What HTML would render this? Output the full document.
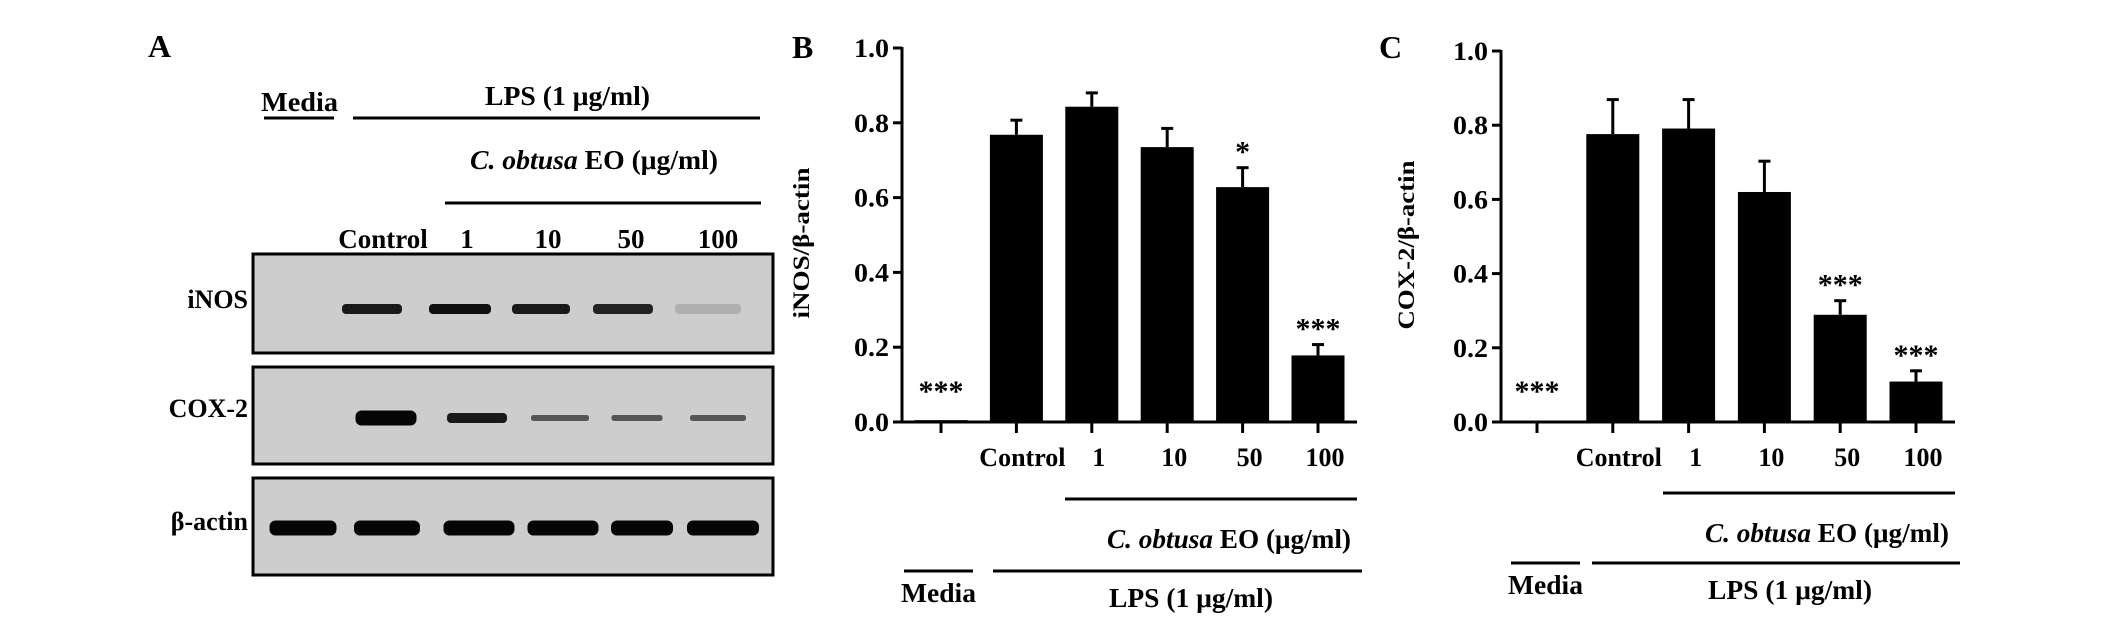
<!DOCTYPE html>
<html><head><meta charset="utf-8">
<style>
html,body{margin:0;padding:0;background:#fff;}
svg{display:block;}
text{font-family:"Liberation Serif","DejaVu Serif",serif;font-weight:bold;fill:#000;}
</style></head>
<body>
<svg id="fig" width="2126" height="623" viewBox="0 0 2126 623" font-family="Liberation Serif, DejaVu Serif, serif">
  <g id="panelA"></g>
  <g id="panelB"></g>
  <g id="panelC"></g>
</svg>
<script>
// ---- chart data ----
const categories = ["", "Control", "1", "10", "50", "100"];
const inosValues = [0.005, 0.768, 0.843, 0.735, 0.628, 0.178];
const inosErrors = [0, 0.039, 0.037, 0.05, 0.052, 0.029];
const inosStars = ["***", "", "", "", "*", "***"];
const coxValues = [0, 0.776, 0.791, 0.62, 0.289, 0.109];
const coxErrors = [0, 0.093, 0.078, 0.083, 0.038, 0.029];
const coxStars = ["***", "", "", "", "***", "***"];
const yTicks = [0, 0.2, 0.4, 0.6, 0.8, 1.0];
const yTickLabels = ["0.0", "0.2", "0.4", "0.6", "0.8", "1.0"];
// blot band intensities (0..1)
const laneLabels = ["Control", "1", "10", "50", "100"];
const inosBands = [0, 0.9, 0.95, 0.9, 0.85, 0.15];
const coxBands = [0, 1, 0.9, 0.6, 0.6, 0.6];
const actinBands = [1, 1, 1, 1, 1, 1];

const NS = "http://www.w3.org/2000/svg";
function mk(parent, tag, attrs, txt) {
  const e = document.createElementNS(NS, tag);
  for (const k in attrs) e.setAttribute(k, attrs[k]);
  if (txt !== undefined) e.textContent = txt;
  parent.appendChild(e);
  return e;
}

// ---------- Panel A ----------
const A = document.getElementById('panelA');
let t;
t = mk(A, 'text', {x: 148, y: 57, 'font-size': 32}, 'A');
 
t = mk(A, 'text', {x: 261, y: 111, 'font-size': 27, textLength: 77, lengthAdjust: 'spacingAndGlyphs'}, 'Media');
 
t = mk(A, 'line', {x1: 264, y1: 118, x2: 334, y2: 118, stroke: '#000', 'stroke-width': 3});
 
t = mk(A, 'text', {x: 485, y: 105, 'font-size': 27, textLength: 165, lengthAdjust: 'spacingAndGlyphs'}, 'LPS (1 μg/ml)');
 
t = mk(A, 'line', {x1: 353, y1: 118, x2: 760, y2: 118, stroke: '#000', 'stroke-width': 3});
 
t = mk(A, 'text', {x: 470, y: 169, 'font-size': 27, textLength: 248, lengthAdjust: 'spacingAndGlyphs'});
 
mk(t, 'tspan', {'font-style': 'italic'}, 'C. obtusa');
mk(t, 'tspan', {}, ' EO (μg/ml)');
t = mk(A, 'line', {x1: 445, y1: 203, x2: 761, y2: 203, stroke: '#000', 'stroke-width': 3});
 

laneLabels.forEach((l, i) => {
  const cx = [383, 467, 548, 631, 718][i];
  const e = mk(A, 'text', {x: cx, y: 248, 'font-size': 27, 'text-anchor': 'middle'}, l);
  
  
});

const blots = [
  {name: 'inos', label: 'iNOS', y0: 254, y1: 353, by: 309, h: 10, bands: inosBands, xs: [300, 372, 460, 541, 623, 708], w: [55, 60, 62, 58, 60, 66]},
  {name: 'cox2', label: 'COX-2', y0: 367, y1: 464, by: 418, h: 6, bands: coxBands, xs: [300, 386, 477, 560, 637, 718], w: [55, 61, 60, 58, 51, 56]},
  {name: 'actin', label: 'β-actin', y0: 478, y1: 575, by: 528, h: 15, bands: actinBands, xs: [303, 387, 479, 563, 642, 723], w: [67, 66, 71, 71, 62, 72]}
];
const labelY = [308, 417, 530];
blots.forEach((b, bi) => {
  const r = mk(A, 'rect', {x: 253, y: b.y0, width: 520, height: b.y1 - b.y0, fill: '#cdcdcd', stroke: '#000', 'stroke-width': 3});
   
  const lab = mk(A, 'text', {x: 248, y: labelY[bi], 'font-size': 26, 'text-anchor': 'end'}, b.label);
   
  b.bands.forEach((v, i) => {
    if (v <= 0) return;
    let hh = b.h;
    if (b.name === 'cox2' && i === 1) hh = 15;
    if (b.name === 'cox2' && i === 2) hh = 10;
    const g = Math.round(205 - v * 200);
    const band = mk(A, 'rect', {x: b.xs[i] - b.w[i] / 2, y: b.by - hh / 2, width: b.w[i], height: hh, rx: hh / 2.5, fill: `rgb(${g},${g},${g})`});
    
    
  });
});

// ---------- Bar charts ----------
function barChart(G, cfg) {
  const yScale = v => cfg.y0 - v * (cfg.y0 - cfg.y1);
  const xScale = i => cfg.xStart + i * cfg.step;
  let e;
  e = mk(G, 'text', {x: cfg.letterX, y: 58, 'font-size': 32}, cfg.letter);
   
  e = mk(G, 'line', {x1: cfg.axX, y1: yScale(1) - 1, x2: cfg.axX, y2: cfg.y0 + 1.5, stroke: '#000', 'stroke-width': 3});
   
  e = mk(G, 'line', {x1: cfg.axX - 9, y1: cfg.y0, x2: cfg.xEnd, y2: cfg.y0, stroke: '#000', 'stroke-width': 3});
   
  yTicks.forEach((v, i) => {
    const y = yScale(v);
    const tk = mk(G, 'line', {x1: cfg.axX - 9, y1: y, x2: cfg.axX, y2: y, stroke: '#000', 'stroke-width': 3});
     
    const tl = mk(G, 'text', {x: cfg.axX - 13, y: y + 9, 'font-size': 26, 'text-anchor': 'end', textLength: 35, lengthAdjust: 'spacingAndGlyphs'}, yTickLabels[i]);
     
  });
  e = mk(G, 'text', {x: 0, y: 0, 'font-size': 23, 'text-anchor': 'middle', textLength: cfg.titleLen, lengthAdjust: 'spacingAndGlyphs', transform: `translate(${cfg.titleX},${cfg.titleY}) rotate(-90)`}, cfg.title);
   
  const bw = 53;
  cfg.values.forEach((v, i) => {
    const cx = xScale(i);
    const tk = mk(G, 'line', {x1: cx, y1: cfg.y0, x2: cx, y2: cfg.y0 + 11, stroke: '#000', 'stroke-width': 3});
     
    const top = yScale(v);
    const errTop = yScale(v + cfg.errors[i]);
    if (cfg.errors[i] > 0) {
      const el = mk(G, 'line', {x1: cx, y1: errTop, x2: cx, y2: top, stroke: '#000', 'stroke-width': 3});
       
      const cap = mk(G, 'line', {x1: cx - 6, y1: errTop, x2: cx + 6, y2: errTop, stroke: '#000', 'stroke-width': 3});
       
    }
    const bar = mk(G, 'rect', {x: cx - bw / 2, y: top, width: bw, height: Math.max(cfg.y0 - top, 0), fill: '#000'});
    
    
    if (cfg.stars[i]) {
      const sy = i === 0 ? cfg.y0 - 35 : errTop - 20;
      const st = mk(G, 'text', {x: cx, y: sy + 14, 'font-size': 30, 'text-anchor': 'middle', 'font-weight': 'normal'}, cfg.stars[i]);
       
    }
    if (categories[i]) {
      const lx = i === 1 ? cx + 6 : cx + 7;
      const lb = mk(G, 'text', {x: lx, y: cfg.y0 + 44, 'font-size': 26, 'text-anchor': 'middle'}, categories[i]);
       
    }
  });
  const L = cfg.ann;
  e = mk(G, 'line', {x1: L.eoX1, y1: L.eoY, x2: L.eoX2, y2: L.eoY, stroke: '#000', 'stroke-width': 3});
   
  e = mk(G, 'text', {x: L.eoX2 - 6, y: L.eoY + 49, 'font-size': 27, 'text-anchor': 'end', textLength: 244, lengthAdjust: 'spacingAndGlyphs'});
   
  mk(e, 'tspan', {'font-style': 'italic'}, 'C. obtusa');
  mk(e, 'tspan', {}, ' EO (μg/ml)');
  e = mk(G, 'line', {x1: L.mX1, y1: L.lY, x2: L.mX2, y2: L.lY, stroke: '#000', 'stroke-width': 3});
   
  e = mk(G, 'line', {x1: L.lX1, y1: L.lY, x2: L.lX2, y2: L.lY, stroke: '#000', 'stroke-width': 3});
   
  e = mk(G, 'text', {x: L.mX1 - 3, y: L.lY + 31, 'font-size': 27, textLength: 75, lengthAdjust: 'spacingAndGlyphs'}, 'Media');
   
  e = mk(G, 'text', {x: L.lpsX, y: L.lY + 36, 'font-size': 27, textLength: 164, lengthAdjust: 'spacingAndGlyphs'}, 'LPS (1 μg/ml)');
   
}

barChart(document.getElementById('panelB'), {
  letter: 'B', letterX: 792, axX: 902, y0: 422, y1: 48, xStart: 941, step: 75.4, xEnd: 1357,
  values: inosValues, errors: inosErrors, stars: inosStars,
  title: 'iNOS/β-actin', titleX: 809, titleY: 243, titleLen: 151,
  ann: {eoX1: 1065, eoX2: 1357, eoY: 499, mX1: 904, mX2: 973, lX1: 993, lX2: 1362, lY: 571, lpsX: 1109}
});
barChart(document.getElementById('panelC'), {
  letter: 'C', letterX: 1379, axX: 1501, y0: 422, y1: 51, xStart: 1537, step: 75.8, xEnd: 1955,
  values: coxValues, errors: coxErrors, stars: coxStars,
  title: 'COX-2/β-actin', titleX: 1414, titleY: 245, titleLen: 169,
  ann: {eoX1: 1663, eoX2: 1955, eoY: 493, mX1: 1511, mX2: 1580, lX1: 1592, lX2: 1960, lY: 563, lpsX: 1708}
});
</script>
</body></html>
